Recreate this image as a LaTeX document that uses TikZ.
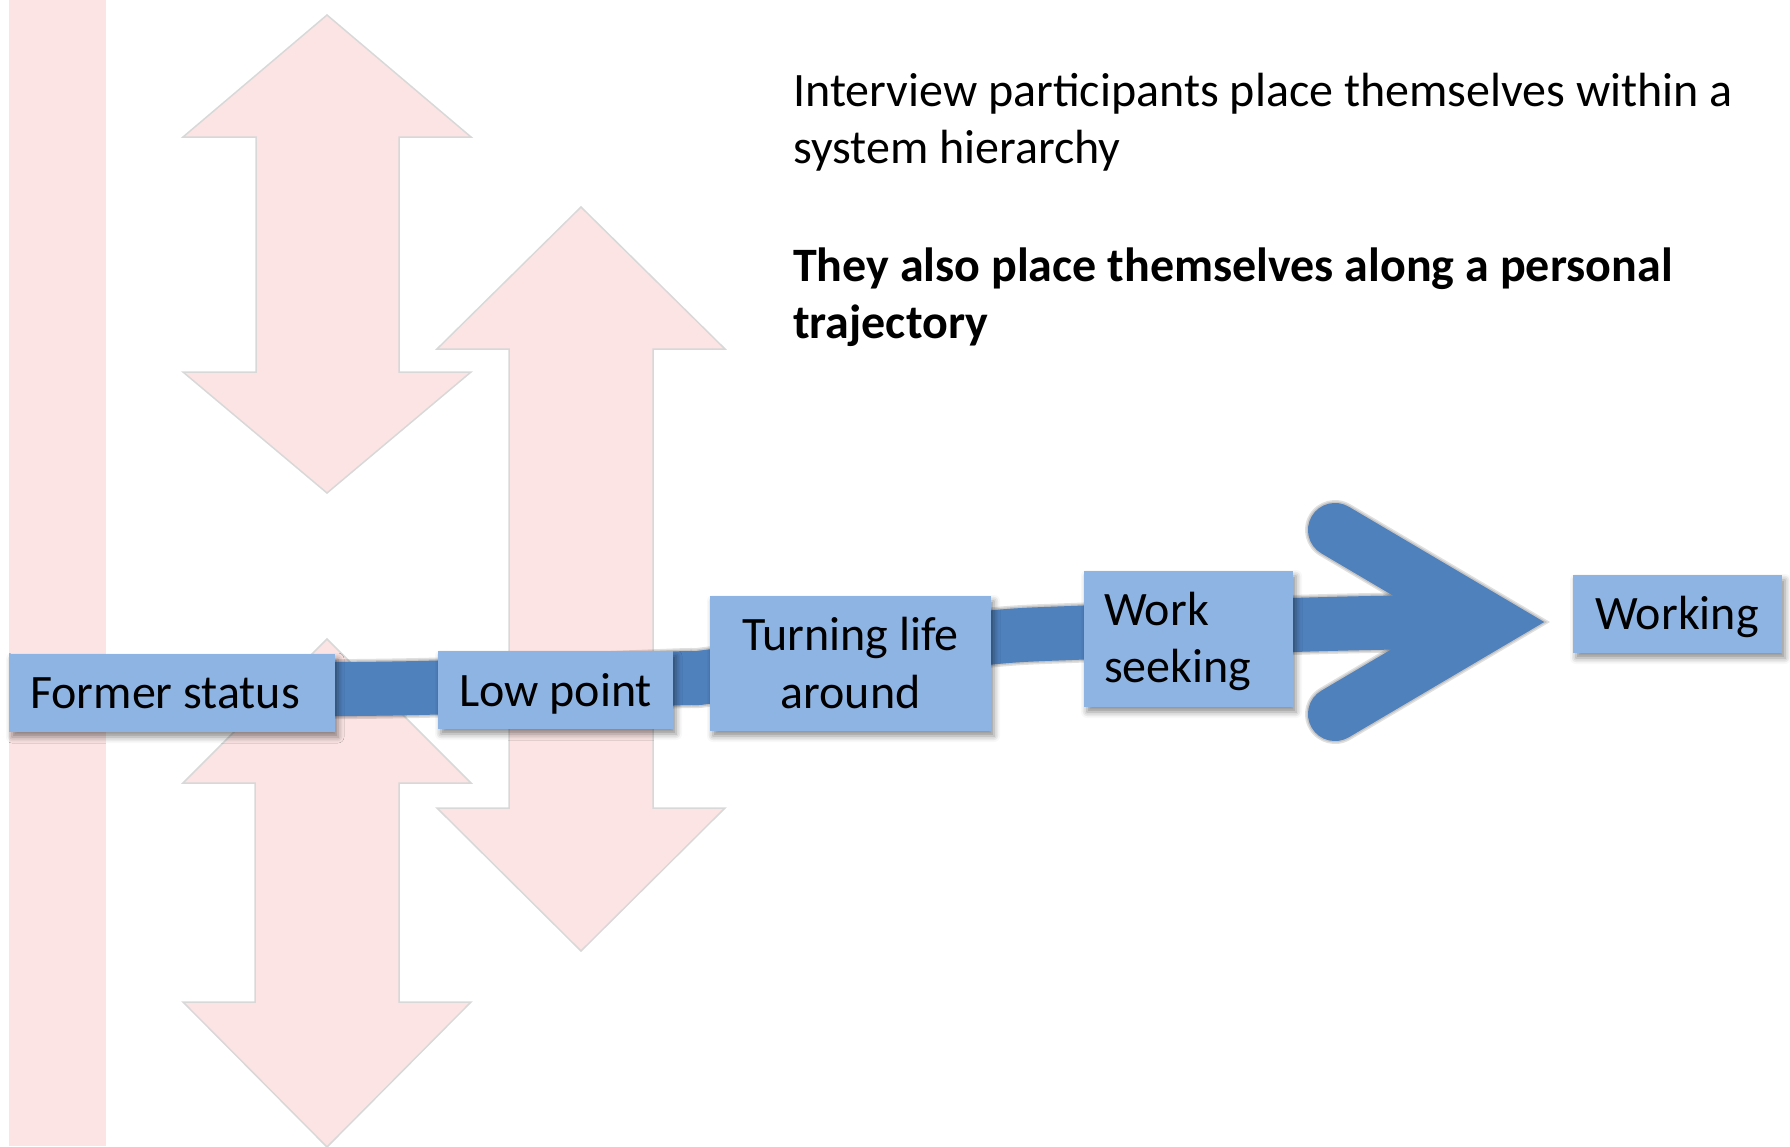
\documentclass[tikz,border=0pt]{standalone}
\usepackage{fontspec}
\setmainfont{Carlito}
\usetikzlibrary{shadows.blur}

\definecolor{pinkfill}{RGB}{252,228,228}
\definecolor{pinkedge}{RGB}{216,216,216}
\definecolor{trackblue}{RGB}{79,129,189}
\definecolor{boxblue}{RGB}{142,180,227}

\begin{document}
\begin{tikzpicture}[x=1pt, y=-1pt,
  hier/.style={fill=pinkfill, draw=pinkedge, line width=1.5pt, line join=miter},
  stagebox/.style={rectangle, fill=boxblue, draw=none, inner sep=0pt,
    blur shadow={shadow xshift=3pt, shadow yshift=-5pt, shadow blur radius=6pt, shadow opacity=45}},
  stagetext/.style={inner sep=0pt, text=black, font=\fontsize{48}{57}\selectfont},
  note/.style={inner sep=0pt, anchor=base west, text=black, font=\fontsize{48}{57}\selectfont},
  track/.style={draw=trackblue, line width=54pt},
  head/.style={draw=trackblue, line width=54pt, line cap=round, line join=miter},
  trackshadow/.style={draw=black, opacity=0.12}
]
\useasboundingbox (0,0) rectangle (1790,1146);

% hierarchy: vertical band and up/down arrows
\fill[pinkfill] (9,0) rectangle (106,1146);
\path[hier] (327,15) -- (471,137) -- (399,137) -- (399,372) -- (471,372) -- (327,493)
  -- (183,372) -- (256,372) -- (256,137) -- (183,137) -- cycle;
\path[hier] (581,207) -- (725,349) -- (653,349) -- (653,808) -- (725,808) -- (581,951)
  -- (437,808) -- (509,808) -- (509,349) -- (437,349) -- cycle;
\path[hier] (327,639) -- (471,783) -- (399,783) -- (399,1002) -- (471,1002) -- (327,1147)
  -- (183,1002) -- (255,1002) -- (255,783) -- (183,783) -- cycle;

% trajectory track waypoints
\coordinate (t0) at (300,689.5);
\coordinate (t1) at (438,687.5);
\coordinate (t2) at (673,678.5);
\coordinate (t3) at (710,676.5);
\coordinate (t4) at (850,656);
\coordinate (t5) at (991,637.5);
\coordinate (t6) at (1084,632.5);
\coordinate (t7) at (1293,625);
\coordinate (t8) at (1397,622.5);
\coordinate (t9) at (1465,622);
\coordinate (hu) at (1335,530);
\coordinate (ht) at (1491,622);
\coordinate (hl) at (1335,714);

% track and arrow head, with soft shadow
\begin{scope}[shift={(3,6)}]
  \foreach \w in {60,57,54}{
    \draw[trackshadow, line width=\w pt] plot[smooth, tension=0.5] coordinates {(t0) (t1) (t2) (t3) (t4) (t5) (t6) (t7) (t8) (t9)};
    \draw[trackshadow, line width=\w pt, line cap=round, line join=miter] (hu) -- (ht) -- (hl);
  }
\end{scope}
\draw[track] plot[smooth, tension=0.5] coordinates {(t0) (t1) (t2) (t3) (t4) (t5) (t6) (t7) (t8) (t9)};
\draw[head] (hu) -- (ht) -- (hl);

% stage boxes
\node[stagebox, minimum width=326pt, minimum height=78pt]  (fs) at (172,693) {};
\node[stagebox, minimum width=235pt, minimum height=78pt]  (lp) at (555.5,690) {};
\node[stagebox, minimum width=281pt, minimum height=135pt] (tl) at (850.5,663.5) {};
\node[stagebox, minimum width=209pt, minimum height=136pt] (ws) at (1188.5,639) {};
\node[stagebox, minimum width=209pt, minimum height=78pt]  (wk) at (1677.5,614) {};

% stage labels
\node[stagetext, anchor=base west] (fs-t) at (30,708) {Former status};
\node[stagetext, anchor=base west] (lp-t) at (459,706) {Low point};
\node[stagetext, anchor=base] (tl-t1) at (850.5,650) {Turning life};
\node[stagetext, anchor=base] (tl-t2) at (850.5,708) {around};
\node[stagetext, anchor=base west] (ws-t1) at (1104,625) {Work};
\node[stagetext, anchor=base west] (ws-t2) at (1104,682) {seeking};
\node[stagetext, anchor=base west] (wk-t) at (1595,629) {Working};

% commentary
\node[note] (n1) at (793,106) {Interview participants place themselves within a};
\node[note] (n2) at (793,163) {system hierarchy};
\node[note, font=\fontsize{48}{57}\selectfont\bfseries] (n3) at (793,281) {They also place themselves along a personal};
\node[note, font=\fontsize{48}{57}\selectfont\bfseries] (n4) at (793,338) {trajectory};
\end{tikzpicture}
\end{document}
